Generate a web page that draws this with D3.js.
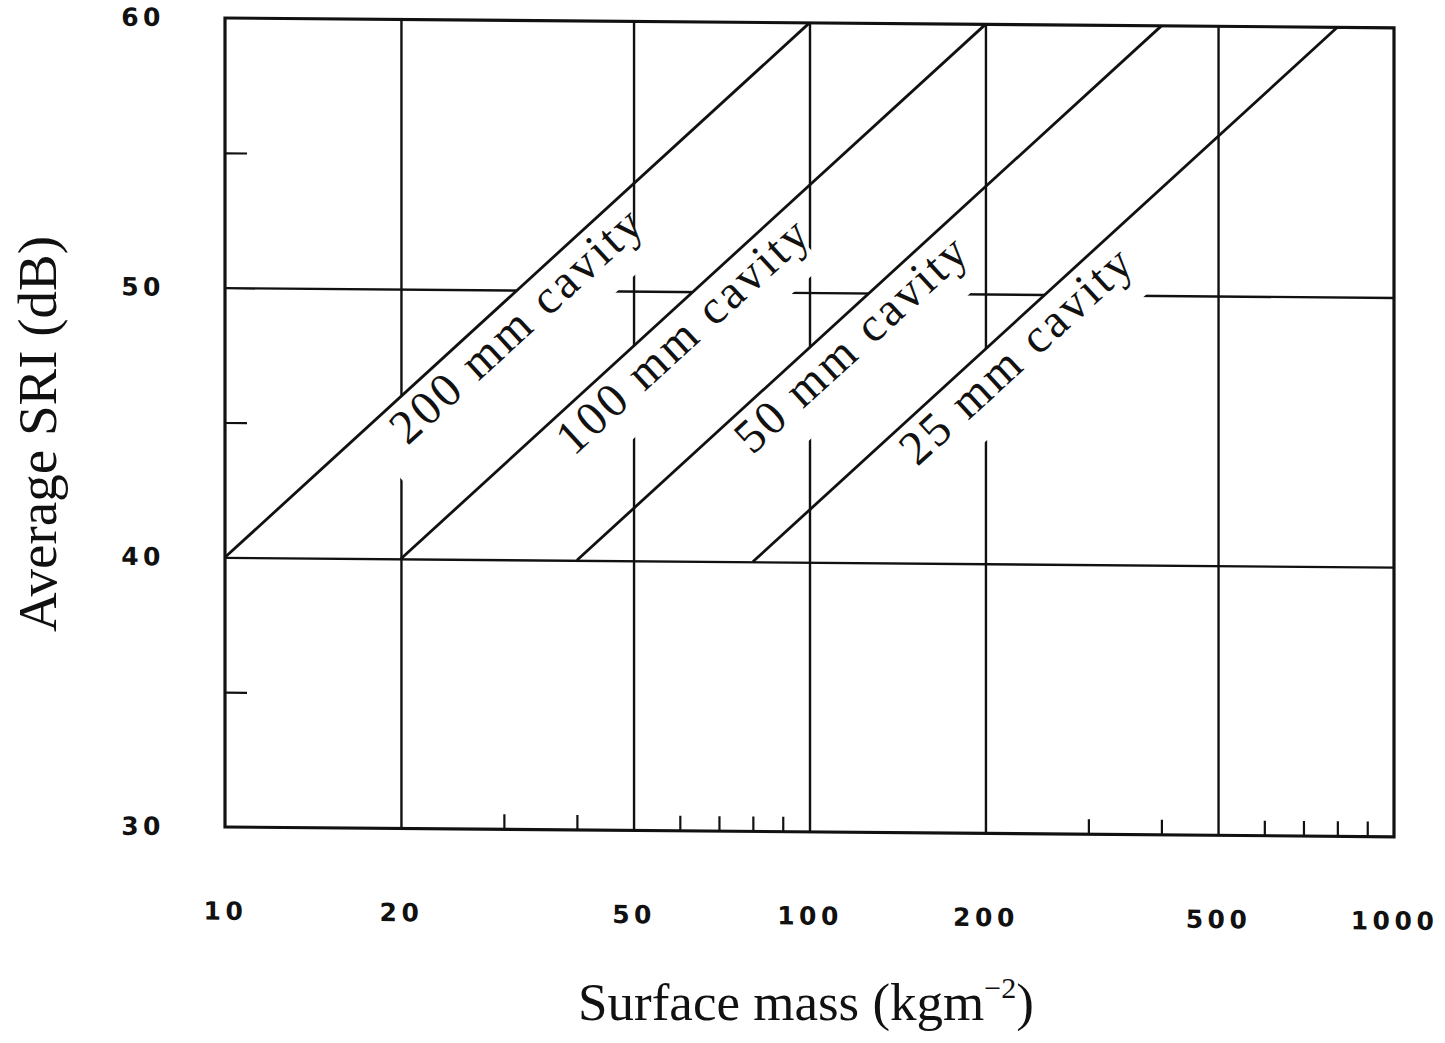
<!DOCTYPE html>
<html>
<head>
<meta charset="utf-8">
<script src="https://cdn.jsdelivr.net/npm/d3@7"></script>
<style>
  html, body { margin: 0; padding: 0; background: #fff; }
  svg { display: block; }
</style>
</head>
<body>
<script>
// ---- data ----
const cavityLabels = ["200 mm cavity", "100 mm cavity", "50 mm cavity", "25 mm cavity"];
const lineStartMass = [10, 20, 40, 80];      // kg/m2 where each line leaves 40 dB
const lineEndMass   = [100, 200, 400, 800];  // kg/m2 where each line reaches 60 dB
const lineStartSRI  = [40, 40, 40, 40];
const lineEndSRI    = [60, 60, 60, 60];
const labelMass     = [18.4, 35.4, 71.5, 137]; // where each label starts along its line
const xTickValues   = [10, 20, 50, 100, 200, 500, 1000];
const xMinorValues  = [30, 40, 60, 70, 80, 90, 300, 400, 600, 700, 800, 900];
const xGridValues   = [20, 50, 100, 200, 500];
const yTickValues   = [30, 40, 50, 60];
const yMinorValues  = [35, 45, 55];
const yGridValues   = [40, 50];
const xTitle = "Surface mass (kgm";
const yTitle = "Average SRI (dB)";

(function () {
// ---- layout ----
const W = 1445, H = 1043;
const pL = 225, pR = 1394, pT = 18, pB = 827;

const x = d3.scaleLog().domain([10, 1000]).range([pL, pR]);
const y = d3.scaleLinear().domain([30, 60]).range([pB, pT]);

const svg = d3.select("body").append("svg").attr("width", W).attr("height", H);
const g = svg.append("g").attr("transform", `translate(${pL},0) skewY(0.48) translate(${-pL},0)`);

const tickFont = "'DejaVu Sans', sans-serif";
const serif = "'Liberation Serif', 'Times New Roman', serif";

// gridlines
const gridX = g.append("g").attr("transform", `translate(0,${pB})`)
  .call(d3.axisBottom(x).tickValues(xGridValues).tickSize(-(pB - pT)).tickFormat(""));
gridX.select(".domain").remove();
gridX.selectAll("line").attr("stroke", "#111").attr("stroke-width", 2.4);

const gridY = g.append("g").attr("transform", `translate(${pL},0)`)
  .call(d3.axisLeft(y).tickValues(yGridValues).tickSize(-(pR - pL)).tickFormat(""));
gridY.select(".domain").remove();
gridY.selectAll("line").attr("stroke", "#111").attr("stroke-width", 2.4);

// label band layer (white background that interrupts the grid)
const bandLayer = g.append("g");

// cavity lines
const lineGen = d3.line().x(d => x(d[0])).y(d => y(d[1]));
cavityLabels.forEach((lab, i) => {
  g.append("path")
    .attr("d", lineGen([[lineStartMass[i], lineStartSRI[i]], [lineEndMass[i], lineEndSRI[i]]]))
    .attr("fill", "none").attr("stroke", "#111").attr("stroke-width", 2.8);
});

// frame
g.append("rect").attr("x", pL).attr("y", pT).attr("width", pR - pL).attr("height", pB - pT)
  .attr("fill", "none").attr("stroke", "#111").attr("stroke-width", 3.2);

// minor ticks
const minX = g.append("g").attr("transform", `translate(0,${pB})`)
  .call(d3.axisBottom(x).tickValues(xMinorValues).tickSize(-15).tickFormat(""));
minX.select(".domain").remove();
minX.selectAll("line").attr("stroke", "#111").attr("stroke-width", 2.2);
const minY = g.append("g").attr("transform", `translate(${pL},0)`)
  .call(d3.axisLeft(y).tickValues(yMinorValues).tickSize(-22).tickFormat(""));
minY.select(".domain").remove();
minY.selectAll("line").attr("stroke", "#111").attr("stroke-width", 2.2);

// tick labels
const axX = g.append("g").attr("transform", `translate(0,${pB})`)
  .call(d3.axisBottom(x).tickValues(xTickValues).tickSize(0).tickPadding(75).tickFormat(d3.format("d")));
axX.select(".domain").remove();
axX.selectAll("text").attr("font-family", tickFont).attr("font-weight", "bold")
  .attr("font-size", 25).attr("letter-spacing", 4.5).attr("fill", "#111");

const axY = g.append("g").attr("transform", `translate(${pL},0)`)
  .call(d3.axisLeft(y).tickValues(yTickValues).tickSize(0).tickPadding(60).tickFormat(d3.format("d")));
axY.select(".domain").remove();
axY.selectAll("text").attr("font-family", tickFont).attr("font-weight", "bold")
  .attr("font-size", 25).attr("letter-spacing", 4.5).attr("fill", "#111");

// cavity labels
const theta = Math.atan2(y(40) - y(60), x(100) - x(10)) * 180 / Math.PI;
const textLayer = g.append("g");
cavityLabels.forEach((lab, i) => {
  const m = labelMass[i];
  const sri = lineStartSRI[i] + (lineEndSRI[i] - lineStartSRI[i]) * Math.log10(m / lineStartMass[i]) / Math.log10(lineEndMass[i] / lineStartMass[i]);
  const px = x(m), py = y(sri);
  const tg = textLayer.append("g").attr("transform", `translate(${px},${py}) rotate(${-theta})`);
  const t = tg.append("text").attr("x", 0).attr("y", 41)
    .attr("font-family", serif).attr("font-size", 48).attr("letter-spacing", 3)
    .attr("fill", "#111").text(lab);
  const w = t.node().getComputedTextLength();
  bandLayer.append("g").attr("transform", `translate(${px},${py}) rotate(${-theta})`)
    .append("rect").attr("x", -27).attr("y", 0).attr("width", w + 16).attr("height", 68).attr("fill", "#fff");
});

// axis titles
const xt = svg.append("text").attr("x", 806).attr("y", 1020).attr("text-anchor", "middle")
  .attr("font-family", serif).attr("font-size", 53).attr("fill", "#111");
xt.append("tspan").text(xTitle);
xt.append("tspan").attr("font-size", 30).attr("dy", -22).text("−2");
xt.append("tspan").attr("dy", 22).text(")");

svg.append("text").attr("transform", "translate(56,434) rotate(-90)").attr("text-anchor", "middle")
  .attr("font-family", serif).attr("font-size", 55).attr("fill", "#111").text(yTitle);
})();
</script>
</body>
</html>
